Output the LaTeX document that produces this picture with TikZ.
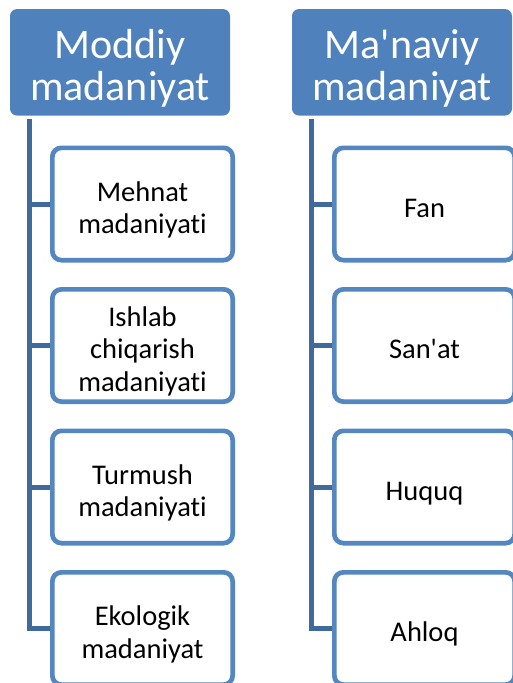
\documentclass[tikz,border=0pt]{standalone}
\usepackage{fontspec}
\setmainfont{Carlito}[Ligatures={TeXOff,NoCommon}]
\definecolor{headblue}{RGB}{79,129,189}
\definecolor{boxblue}{RGB}{84,134,192}
\definecolor{linkblue}{RGB}{64,106,155}
\newcommand\lowtext[2]{\raisebox{-#1}[\height][\depth]{\begin{tabular}{@{}c@{}}#2\end{tabular}}}
\tikzset{
  headbox/.style={rectangle, rounded corners=7pt, fill=headblue, text=white,
    minimum width=220pt, minimum height=106.5pt, inner sep=0pt, align=center,
    font=\fontsize{42}{42.5}\selectfont},
  itembox/.style={rectangle, rounded corners=9pt, draw=boxblue, line width=4.7pt, fill=white,
    minimum width=180.3pt, minimum height=112.3pt, inner sep=0pt, align=center,
    font=\fontsize{28.5}{32.3}\selectfont, text=black},
  conn/.style={draw=linkblue, line width=5pt}
}
\begin{document}
\begin{tikzpicture}[x=1pt,y=-1pt]
\useasboundingbox (0,0) rectangle (513,683);
\clip (0,0) rectangle (513,683);
% left column
\node[headbox] (h1) at (120,62.3) {\lowtext{8.5pt}{Moddiy\\madaniyat}};
\node[itembox] (m1) at (142.5,204) {\lowtext{7pt}{Mehnat\\madaniyati}};
\node[itembox] (m2) at (142.5,345.5) {\lowtext{7pt}{Ishlab\\chiqarish\\madaniyati}};
\node[itembox] (m3) at (142.5,487) {\lowtext{7pt}{Turmush\\madaniyati}};
\node[itembox] (m4) at (142.5,628.5) {\lowtext{7pt}{Ekologik\\madaniyat}};
\coordinate (a0) at (29.3,119);
\draw[conn] (a0) |- (m4.west);
\draw[conn] (a0 |- m1.west) -- (m1.west);
\draw[conn] (a0 |- m2.west) -- (m2.west);
\draw[conn] (a0 |- m3.west) -- (m3.west);
% right column
\node[headbox] (h2) at (402,62.3) {\lowtext{8.5pt}{Ma'naviy\\madaniyat}};
\node[itembox] (n1) at (424.5,204) {\lowtext{7pt}{Fan}};
\node[itembox] (n2) at (424.5,345.5) {\lowtext{7pt}{San'at}};
\node[itembox] (n3) at (424.5,487) {\lowtext{7pt}{Huquq}};
\node[itembox] (n4) at (424.5,628.5) {\lowtext{7pt}{Ahloq}};
\coordinate (b0) at (311.3,119);
\draw[conn] (b0) |- (n4.west);
\draw[conn] (b0 |- n1.west) -- (n1.west);
\draw[conn] (b0 |- n2.west) -- (n2.west);
\draw[conn] (b0 |- n3.west) -- (n3.west);
\end{tikzpicture}
\end{document}
